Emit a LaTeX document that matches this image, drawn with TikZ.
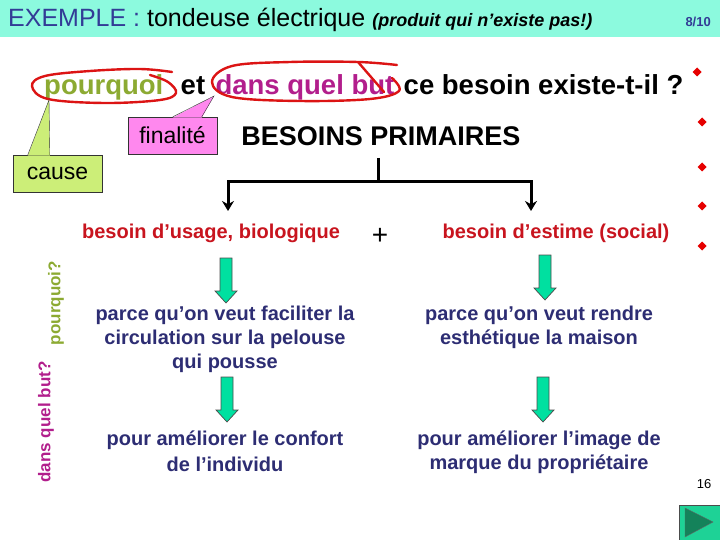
\documentclass[tikz,border=0pt]{standalone}
\usepackage{fontspec}
\setmainfont{Liberation Sans}
\usetikzlibrary{positioning,arrows.meta}

\definecolor{band}{RGB}{140,250,222}
\definecolor{hdblue}{RGB}{50,60,150}
\definecolor{olivegr}{RGB}{140,170,50}
\definecolor{magent}{RGB}{178,30,140}
\definecolor{needred}{RGB}{200,20,30}
\definecolor{navy}{RGB}{45,45,115}
\definecolor{pinkbox}{RGB}{255,136,238}
\definecolor{causebox}{RGB}{204,238,120}
\definecolor{penred}{RGB}{220,20,20}
\definecolor{bulred}{RGB}{230,0,0}
\definecolor{arrgreen}{RGB}{0,224,160}
\definecolor{btngreen}{RGB}{30,210,150}
\definecolor{btndark}{RGB}{20,130,90}

\tikzset{
  qword/.style={inner sep=0pt, font=\bfseries\fontsize{27.5}{27.5}\selectfont},
  need/.style={text=needred, font=\bfseries\fontsize{20}{24}\selectfont},
  reason/.style={text=navy, align=center, font=\bfseries\fontsize{20}{24}\selectfont},
  callout/.style={draw=black!80, thin, inner sep=0pt, minimum width=89pt, minimum height=37pt},
  redpen/.style={draw=penred, line width=2.4pt, line cap=round, line join=round},
  tree/.style={line width=3pt},
  blockarrow/.style={fill=arrgreen, draw=black!70, line width=0.7pt, line join=miter}
}

\begin{document}
\begin{tikzpicture}[x=1pt,y=-1pt]
\useasboundingbox (0,0) rectangle (720,540);

% bandeau du titre
\fill[band] (0,0) rectangle (720,37);
\node[anchor=base west, inner sep=0pt, font=\fontsize{25}{25}\selectfont] (title) at (8,27)
  {\textcolor{hdblue}{EXEMPLE :} tondeuse électrique {\bfseries\itshape\fontsize{18}{18}\selectfont (produit qui n’existe pas!)}};
\node[anchor=base east, inner sep=0pt, text=hdblue, font=\bfseries\fontsize{13}{13}\selectfont] (pg) at (711,27) {8/10};

% la question
\node[qword, text=olivegr, anchor=base west] (why) at (44,95) {pourquoi};
\node[qword, right=17pt of why.base east, anchor=base west] (et) {et};
\node[qword, text=magent, right=10pt of et.base east, anchor=base west] (aim) {dans quel but};
\node[qword, right=9pt of aim.base east, anchor=base west] (rest) {ce besoin existe-t-il ?};

% traits rouges
\draw[redpen] plot[smooth, tension=0.6] coordinates {(172,72) (140,69) (90,71) (45,76) (32,86) (48,99) (105,103) (160,100) (176,93) (168,82) (150,75)};
\draw[redpen] plot[smooth, tension=0.6] coordinates {(397,65) (358,62) (290,62) (232,66) (212,82) (232,97) (300,101) (370,99) (399,91) (392,78)};
\draw[redpen] (358,62) -- (384,92);

% bulles
\node[callout, fill=pinkbox, font=\fontsize{23}{23}\selectfont] (fin) at (172.5,135.5) {finalité};
\coordinate (finTip) at (214,96);
\fill[pinkbox] ([xshift=45pt,yshift=-0.8pt]fin.north west) -- (finTip) -- ([xshift=74pt,yshift=-0.8pt]fin.north west) -- cycle;
\draw[thin, black!80] ([xshift=45pt]fin.north west) -- (finTip) -- ([xshift=74pt]fin.north west);

\node[callout, fill=causebox, font=\fontsize{23}{23}\selectfont] (cause) at (57.5,173.5) {cause};
\coordinate (causeTip) at (49,100);
\fill[causebox] ([xshift=15pt,yshift=-0.8pt]cause.north west) -- (causeTip) -- ([xshift=37pt,yshift=-0.8pt]cause.north west) -- cycle;
\draw[thin, black!80] ([xshift=15pt]cause.north west) -- (causeTip) -- ([xshift=37pt]cause.north west);

% besoins
\node[font=\bfseries\fontsize{27}{27}\selectfont] (bp) at (381,136) {BESOINS PRIMAIRES};
\coordinate (stem) at (378,158);
\coordinate (fork) at (378,182);
\coordinate (tipL) at (228,211);
\coordinate (tipR) at (531,211);
\draw[tree] (stem) -- (fork);
\draw[tree, -{Stealth[length=10pt,width=12pt]}] (fork) -| (tipL);
\draw[tree, -{Stealth[length=10pt,width=12pt]}] (fork) -| (tipR);

\node[need] (usage) at (211,233) {besoin d’usage, biologique};
\node[font=\fontsize{28}{28}\selectfont] (plus) at (380,236) {+};
\node[need] (estime) at (556,233) {besoin d’estime (social)};

\foreach \x/\y in {226/258, 545/255, 227/377, 543/377} {%
  \draw[blockarrow] (\x-6,\y) -- (\x+6,\y) -- (\x+6,\y+33) -- (\x+11,\y+33)
    -- (\x,\y+45) -- (\x-11,\y+33) -- (\x-6,\y+33) -- cycle;
}

\node[reason] (why1) at (225,339) {parce qu’on veut faciliter la\\circulation sur la pelouse\\qui pousse};
\node[reason] (why2) at (539,327) {parce qu’on veut rendre\\esthétique la maison};
\node[reason, font=\bfseries\fontsize{20}{26}\selectfont] (aim1) at (225,451) {pour améliorer le confort\\de l’individu};
\node[reason] (aim2) at (539,452) {pour améliorer l’image de\\marque du propriétaire};

% axes verticaux
\node[rotate=90, text=olivegr, font=\bfseries\fontsize{17}{17}\selectfont] (pq) at (56,303) {pourquoi?};
\node[rotate=90, text=magent, font=\bfseries\fontsize{17}{17}\selectfont] (dqb) at (46,422) {dans quel but?};

% puces
\foreach \x/\y in {697/72, 702/122, 702/167, 702/206, 702/246} {%
  \fill[bulred] (\x,\y-4.5) -- (\x+4.5,\y) -- (\x,\y+4.5) -- (\x-4.5,\y) -- cycle;
}

\node[font=\fontsize{13}{13}\selectfont] (num) at (704,484) {16};
\filldraw[fill=btngreen, draw=black!70] (679,505) rectangle (724,545);
\filldraw[fill=btndark, draw=black!60] (685,508) -- (713,522) -- (685,537) -- cycle;

\end{tikzpicture}
\end{document}
